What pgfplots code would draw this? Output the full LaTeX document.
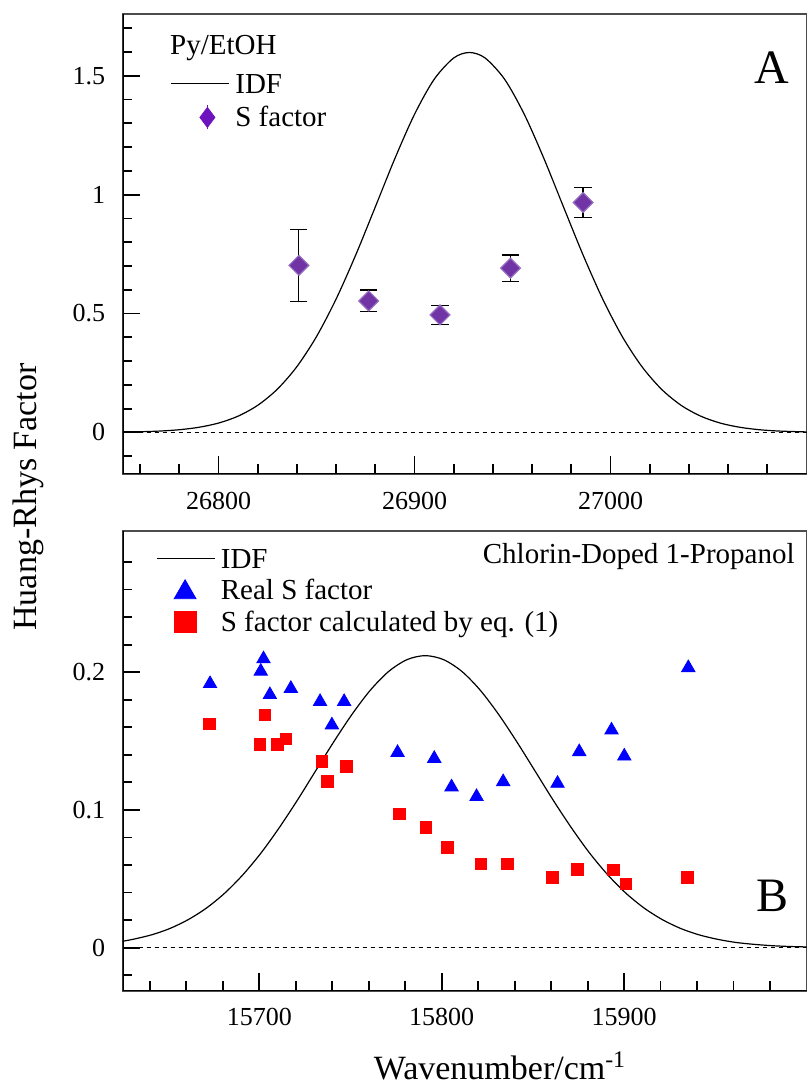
\documentclass[border=0pt]{standalone}
\usepackage{fontspec}
\setmainfont{Liberation Serif}
\usepackage{pgfplots}
\pgfplotsset{compat=1.18}
\definecolor{dpurple}{RGB}{112,52,165}
\definecolor{epurple}{RGB}{150,110,195}
\definecolor{lpurple}{RGB}{110,20,190}
\definecolor{tblue}{RGB}{0,0,255}
\definecolor{sred}{RGB}{255,0,0}
\pgfplotsset{
 lineleg/.style={legend image code/.code={\draw[##1] (0pt,0pt) -- (29pt,0pt);}},
 triloc/.style={legend image code/.code={\draw[##1, mark size=6.3pt] plot coordinates {(14.15pt,-1pt)};}},
 sqloc/.style={legend image code/.code={\draw[##1, mark size=5.4pt] plot coordinates {(14.15pt,0pt)};}},
 diamleg/.style={legend image code/.code={%
  \draw[lpurple, line width=0.8pt] (18.3pt,-6pt) -- (18.3pt,6pt);
  \draw[only marks, mark=diamond*, mark size=5pt, mark options={fill=lpurple, draw=lpurple}] plot coordinates {(18.3pt,0pt)};}},
 myaxis/.style={
  scale only axis, width=342pt, height=230pt,
  anchor=south west,
  scaled x ticks=false, scaled y ticks=false,
  axis line style={line width=0.7pt, black!70},
  xtick pos=left, ytick pos=left,
  tick align=inside,
  major tick length=9pt, minor tick length=5pt,
  every tick/.style={black, line width=0.9pt},
  ticklabel style={font=\fontsize{13}{15}\selectfont, inner sep=0pt},
  yticklabel style={xshift=-8.5pt},
  legend cell align=left,
  legend style={draw=none, fill=none, font=\fontsize{14.5}{16}\selectfont,
    inner sep=0pt, column sep=3pt,
    nodes={inner sep=0pt, text height=11pt, text depth=1.5pt}},
 }
}
\begin{document}
\begin{tikzpicture}
\useasboundingbox (0,0) rectangle (403.5pt,543.5pt);
% ---------- Panel A ----------
\begin{axis}[myaxis, at={(61.25pt,306.5pt)},
 xmin=26751, xmax=27100, ymin=-0.175, ymax=1.76,
 xtick={26800,26900,27000}, xticklabels={26800,26900,27000},
 minor xtick={26760,26780,26820,26840,26860,26880,26920,26940,26960,26980,27020,27040,27060,27080},
 ytick={0,0.5,1,1.5}, yticklabels={0,0.5,1,1.5},
 minor ytick={-0.1,0.1,0.2,0.3,0.4,0.6,0.7,0.8,0.9,1.1,1.2,1.3,1.4,1.6,1.7},
 xticklabel style={yshift=-8.9pt},
 legend style={at={(rel axis cs:0,1)}, anchor=north west, xshift=23.65pt, yshift=-28.4pt, row sep=4.2pt},
]
\addplot[black, line width=0.6pt, smooth, lineleg] coordinates {
(26751,0.0012)(26760,0.0027)(26770,0.0056)(26780,0.0112)(26790,0.0215)(26800,0.0392)
(26810,0.0684)(26820,0.1140)(26830,0.1817)(26840,0.2769)(26850,0.4032)(26860,0.5611)
(26870,0.7463)(26880,0.9486)(26890,1.1525)(26900,1.3380)(26910,1.4850)(26920,1.5750)
(26928,1.5980)(26936,1.5750)(26946,1.4850)(26956,1.3380)(26966,1.1525)(26976,0.9486)
(26986,0.7463)(26996,0.5611)(27006,0.4032)(27016,0.2769)(27026,0.1817)(27036,0.1140)
(27046,0.0684)(27056,0.0392)(27066,0.0215)(27076,0.0112)(27086,0.0056)(27100,0.0020)};
\addlegendentry{IDF}
\addplot[only marks, mark=square*, mark size=3.5pt,
  mark options={rotate=45, fill=dpurple, draw=epurple, line width=0.6pt},
  forget plot,
  error bars/.cd, y dir=both, y explicit,
  error mark=|,
  error bar style={black, line width=0.6pt},
  error mark options={black, mark size=4.3pt, line width=0.6pt},
  ] coordinates {
(26841,0.7025) +- (0,0.1525)
(26876.6,0.553) +- (0,0.046)
(26913,0.494) +- (0,0.041)
(26949,0.691) +- (0,0.055)
(26986,0.967) +- (0,0.062)};
\addlegendimage{diamleg}
\addlegendentry{S factor}
\addplot[black, line width=0.5pt, dash pattern=on 2pt off 2pt, forget plot] coordinates {(26751,0) (27100,0)};
\draw[line width=1.2pt, black] (rel axis cs:0,1) -- (rel axis cs:0,0) -- (rel axis cs:1,0);
\node[anchor=west, font=\fontsize{14.5}{16}\selectfont, inner sep=0pt] at ([xshift=23.65pt, yshift=-17.15pt]rel axis cs:0,1) {Py/EtOH};
\end{axis}
% ---------- Panel B ----------
\begin{axis}[myaxis, at={(61.25pt,48pt)},
 xmin=15625, xmax=16000, ymin=-0.0315, ymax=0.3025,
 xtick={15700,15800,15900}, xticklabels={15700,15800,15900},
 minor xtick={15640,15660,15680,15720,15740,15760,15780,15820,15840,15860,15880,15920,15940,15960,15980},
 ytick={0,0.1,0.2}, yticklabels={0,0.1,0.2},
 minor ytick={-0.02,0.02,0.04,0.06,0.08,0.12,0.14,0.16,0.18,0.22,0.24,0.26,0.28},
 xticklabel style={yshift=-8.2pt},
 legend style={at={(rel axis cs:0,1)}, anchor=north west, xshift=16.65pt, yshift=-7.4pt, row sep=3.35pt, column sep=2.75pt},
]
\addplot[black, line width=0.6pt, smooth, lineleg] coordinates {
(15625,0.0046)(15631,0.0061)(15641,0.0093)(15651,0.0139)(15661,0.0203)(15671,0.0287)
(15681,0.0395)(15691,0.0529)(15701,0.0688)(15711,0.0872)(15721,0.1073)(15731,0.1286)
(15741,0.1498)(15751,0.1697)(15761,0.1871)(15771,0.2006)(15781,0.2091)(15791,0.2120)
(15801,0.2091)(15811,0.2006)(15821,0.1871)(15831,0.1697)(15841,0.1498)(15851,0.1286)
(15861,0.1073)(15871,0.0872)(15881,0.0688)(15891,0.0529)(15901,0.0395)(15911,0.0287)
(15921,0.0203)(15931,0.0139)(15941,0.0093)(15951,0.0061)(15961,0.0038)(15971,0.0024)
(15981,0.0014)(15991,0.0008)(16000,0.0005)};
\addlegendentry{IDF}
\addplot[only marks, mark=triangle*, mark size=3.85pt, mark options={fill=tblue, draw=tblue}, triloc] coordinates {
(15673,0.1916)(15702.3,0.2096)(15700.8,0.2006)(15705.8,0.1836)(15717.3,0.1881)
(15733.3,0.1786)(15746.5,0.1786)(15739.8,0.1616)(15775.8,0.1416)(15795.9,0.1373)
(15805.4,0.1166)(15819.1,0.1096)(15833.7,0.1204)(15863.5,0.1192)(15875.4,0.1422)
(15893.1,0.1579)(15900.1,0.1390)(15935.2,0.2032)};
\addlegendentry{Real S  factor}
\addplot[only marks, mark=square*, mark size=2.9pt, mark options={fill=sred, draw=sred}, sqloc] coordinates {
(15672.5,0.1625)(15703,0.169)(15700.4,0.1477)(15710,0.1477)(15714.5,0.1516)
(15734.4,0.135)(15737.4,0.1206)(15747.8,0.1315)(15776.7,0.097)(15791.3,0.0871)
(15803.2,0.0729)(15821.5,0.0608)(15836.1,0.0608)(15860.8,0.0511)(15874.5,0.0569)
(15894.2,0.0564)(15901,0.0463)(15934.8,0.0508)};
\addlegendentry{S factor calculated by eq. (1)}
\addplot[black, line width=0.5pt, dash pattern=on 2pt off 2pt, forget plot] coordinates {(15625,0) (16000,0)};
\draw[line width=1.2pt, black] (rel axis cs:0,1) -- (rel axis cs:0,0) -- (rel axis cs:1,0);
\end{axis}
% ---------- texts ----------
\node[anchor=east, font=\fontsize{14.5}{16}\selectfont, inner sep=0pt] at (397.5pt,265.15pt) {Chlorin-Doped 1-Propanol};
\node[font=\fontsize{24}{26}\selectfont, inner sep=0pt] at (386pt,509.5pt) {A};
\node[font=\fontsize{24}{26}\selectfont, inner sep=0pt] at (386pt,95.5pt) {B};
\node[rotate=90, font=\fontsize{17}{19}\selectfont, inner sep=0pt] at (14pt,295pt) {Huang-Rhys Factor};
\node[font=\fontsize{17}{19}\selectfont, inner sep=0pt] at (250pt,10.5pt) {Wavenumber/cm\textsuperscript{-1}};
\end{tikzpicture}
\end{document}
